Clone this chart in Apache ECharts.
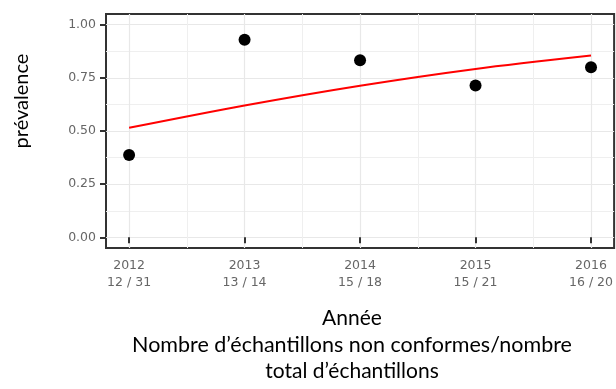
<!DOCTYPE html>
<html>
<head>
<meta charset="utf-8">
<script src="https://cdn.jsdelivr.net/npm/echarts@6/dist/echarts.min.js"></script>
<style>
  html, body { margin: 0; padding: 0; background: #fff; }
  #chart { width: 616px; height: 389px; }
</style>
</head>
<body>
<div id="chart"></div>
<script>
// ---- data ----
var years = [2012, 2013, 2014, 2015, 2016];
var ratioLabels = ['12 / 31', '13 / 14', '15 / 18', '15 / 21', '16 / 20'];
var prevalence = [0.387, 0.929, 0.833, 0.714, 0.800];
var fitted = [0.515, 0.620, 0.713, 0.792, 0.855];
var yTicks = [0, 0.25, 0.5, 0.75, 1];
var yMinorTicks = [0.125, 0.375, 0.625, 0.875];
var yTitle = 'prévalence';
var xTitleLines = ['Année', 'Nombre d’échantillons non conformes/nombre', 'total d’échantillons'];

var tickFont = 'DejaVu Sans';
var tickColor = '#666';
var titleFont = 'Lato';

var chart = echarts.init(document.getElementById('chart'), null, { renderer: 'canvas' });

var option = {
  animation: false,
  backgroundColor: '#fff',
  grid: {
    left: 106, top: 14, right: -3, bottom: 141,
    show: true, borderColor: '#333', borderWidth: 2, backgroundColor: 'transparent'
  },
  xAxis: [{
    type: 'value', min: 2011.8, max: 2016.2,
    axisLine: { show: false },
    axisTick: { show: true, length: 6, customValues: years, lineStyle: { color: '#333', width: 2 } },
    axisLabel: {
      customValues: years, margin: 9, fontFamily: tickFont, fontSize: 12.5, color: tickColor, lineHeight: 17,
      formatter: function (v) {
        var i = years.indexOf(Math.round(v));
        return i < 0 ? '' : years[i] + '\n' + ratioLabels[i];
      }
    },
    splitLine: { show: true, lineStyle: { color: '#e8e8e8', width: 1.2 } },
    minorTick: { show: false, splitNumber: 2 },
    minorSplitLine: { show: true, lineStyle: { color: '#efefef', width: 1 } }
  }],
  yAxis: [{
    type: 'value', min: -0.05, max: 1.05,
    axisLine: { show: false },
    axisTick: { show: true, length: 6, customValues: yTicks, lineStyle: { color: '#333', width: 2 } },
    axisLabel: {
      customValues: yTicks, margin: 10, fontFamily: tickFont, fontSize: 12.5, color: tickColor,
      formatter: function (v) { return v.toFixed(2); }
    },
    splitLine: { show: true, lineStyle: { color: '#e8e8e8', width: 1.2 } }
  }, {
    type: 'value', min: -0.05, max: 1.05, position: 'left',
    axisLine: { show: false },
    axisTick: { show: false, customValues: yMinorTicks },
    axisLabel: { show: false, customValues: yMinorTicks },
    splitLine: { show: true, lineStyle: { color: '#efefef', width: 1 } }
  }],
  series: [{
    type: 'line', xAxisIndex: 0, yAxisIndex: 0,
    data: years.map(function (y, i) { return [y, fitted[i]]; }),
    smooth: 0.3, showSymbol: false, silent: true,
    lineStyle: { color: '#ff0000', width: 2 }, z: 3
  }, {
    type: 'scatter', xAxisIndex: 0, yAxisIndex: 0,
    data: years.map(function (y, i) { return [y, prevalence[i]]; }),
    symbol: 'circle', symbolSize: 12,
    itemStyle: { color: '#000', opacity: 1 }, z: 4
  }],
  graphic: [{
    type: 'text', x: 22, y: 101, rotation: Math.PI / 2,
    style: { text: yTitle, font: '20px ' + titleFont, fill: '#000', align: 'center', verticalAlign: 'middle' }
  }, {
    type: 'text', x: 352, y: 318,
    style: { text: xTitleLines[0], font: '21px ' + titleFont, fill: '#000', align: 'center', verticalAlign: 'middle' }
  }, {
    type: 'text', x: 352, y: 345,
    style: { text: xTitleLines[1], font: '21.5px ' + titleFont, fill: '#000', align: 'center', verticalAlign: 'middle' }
  }, {
    type: 'text', x: 352, y: 371,
    style: { text: xTitleLines[2], font: '21px ' + titleFont, fill: '#000', align: 'center', verticalAlign: 'middle' }
  }]
};
chart.setOption(option);
</script>
</body>
</html>
